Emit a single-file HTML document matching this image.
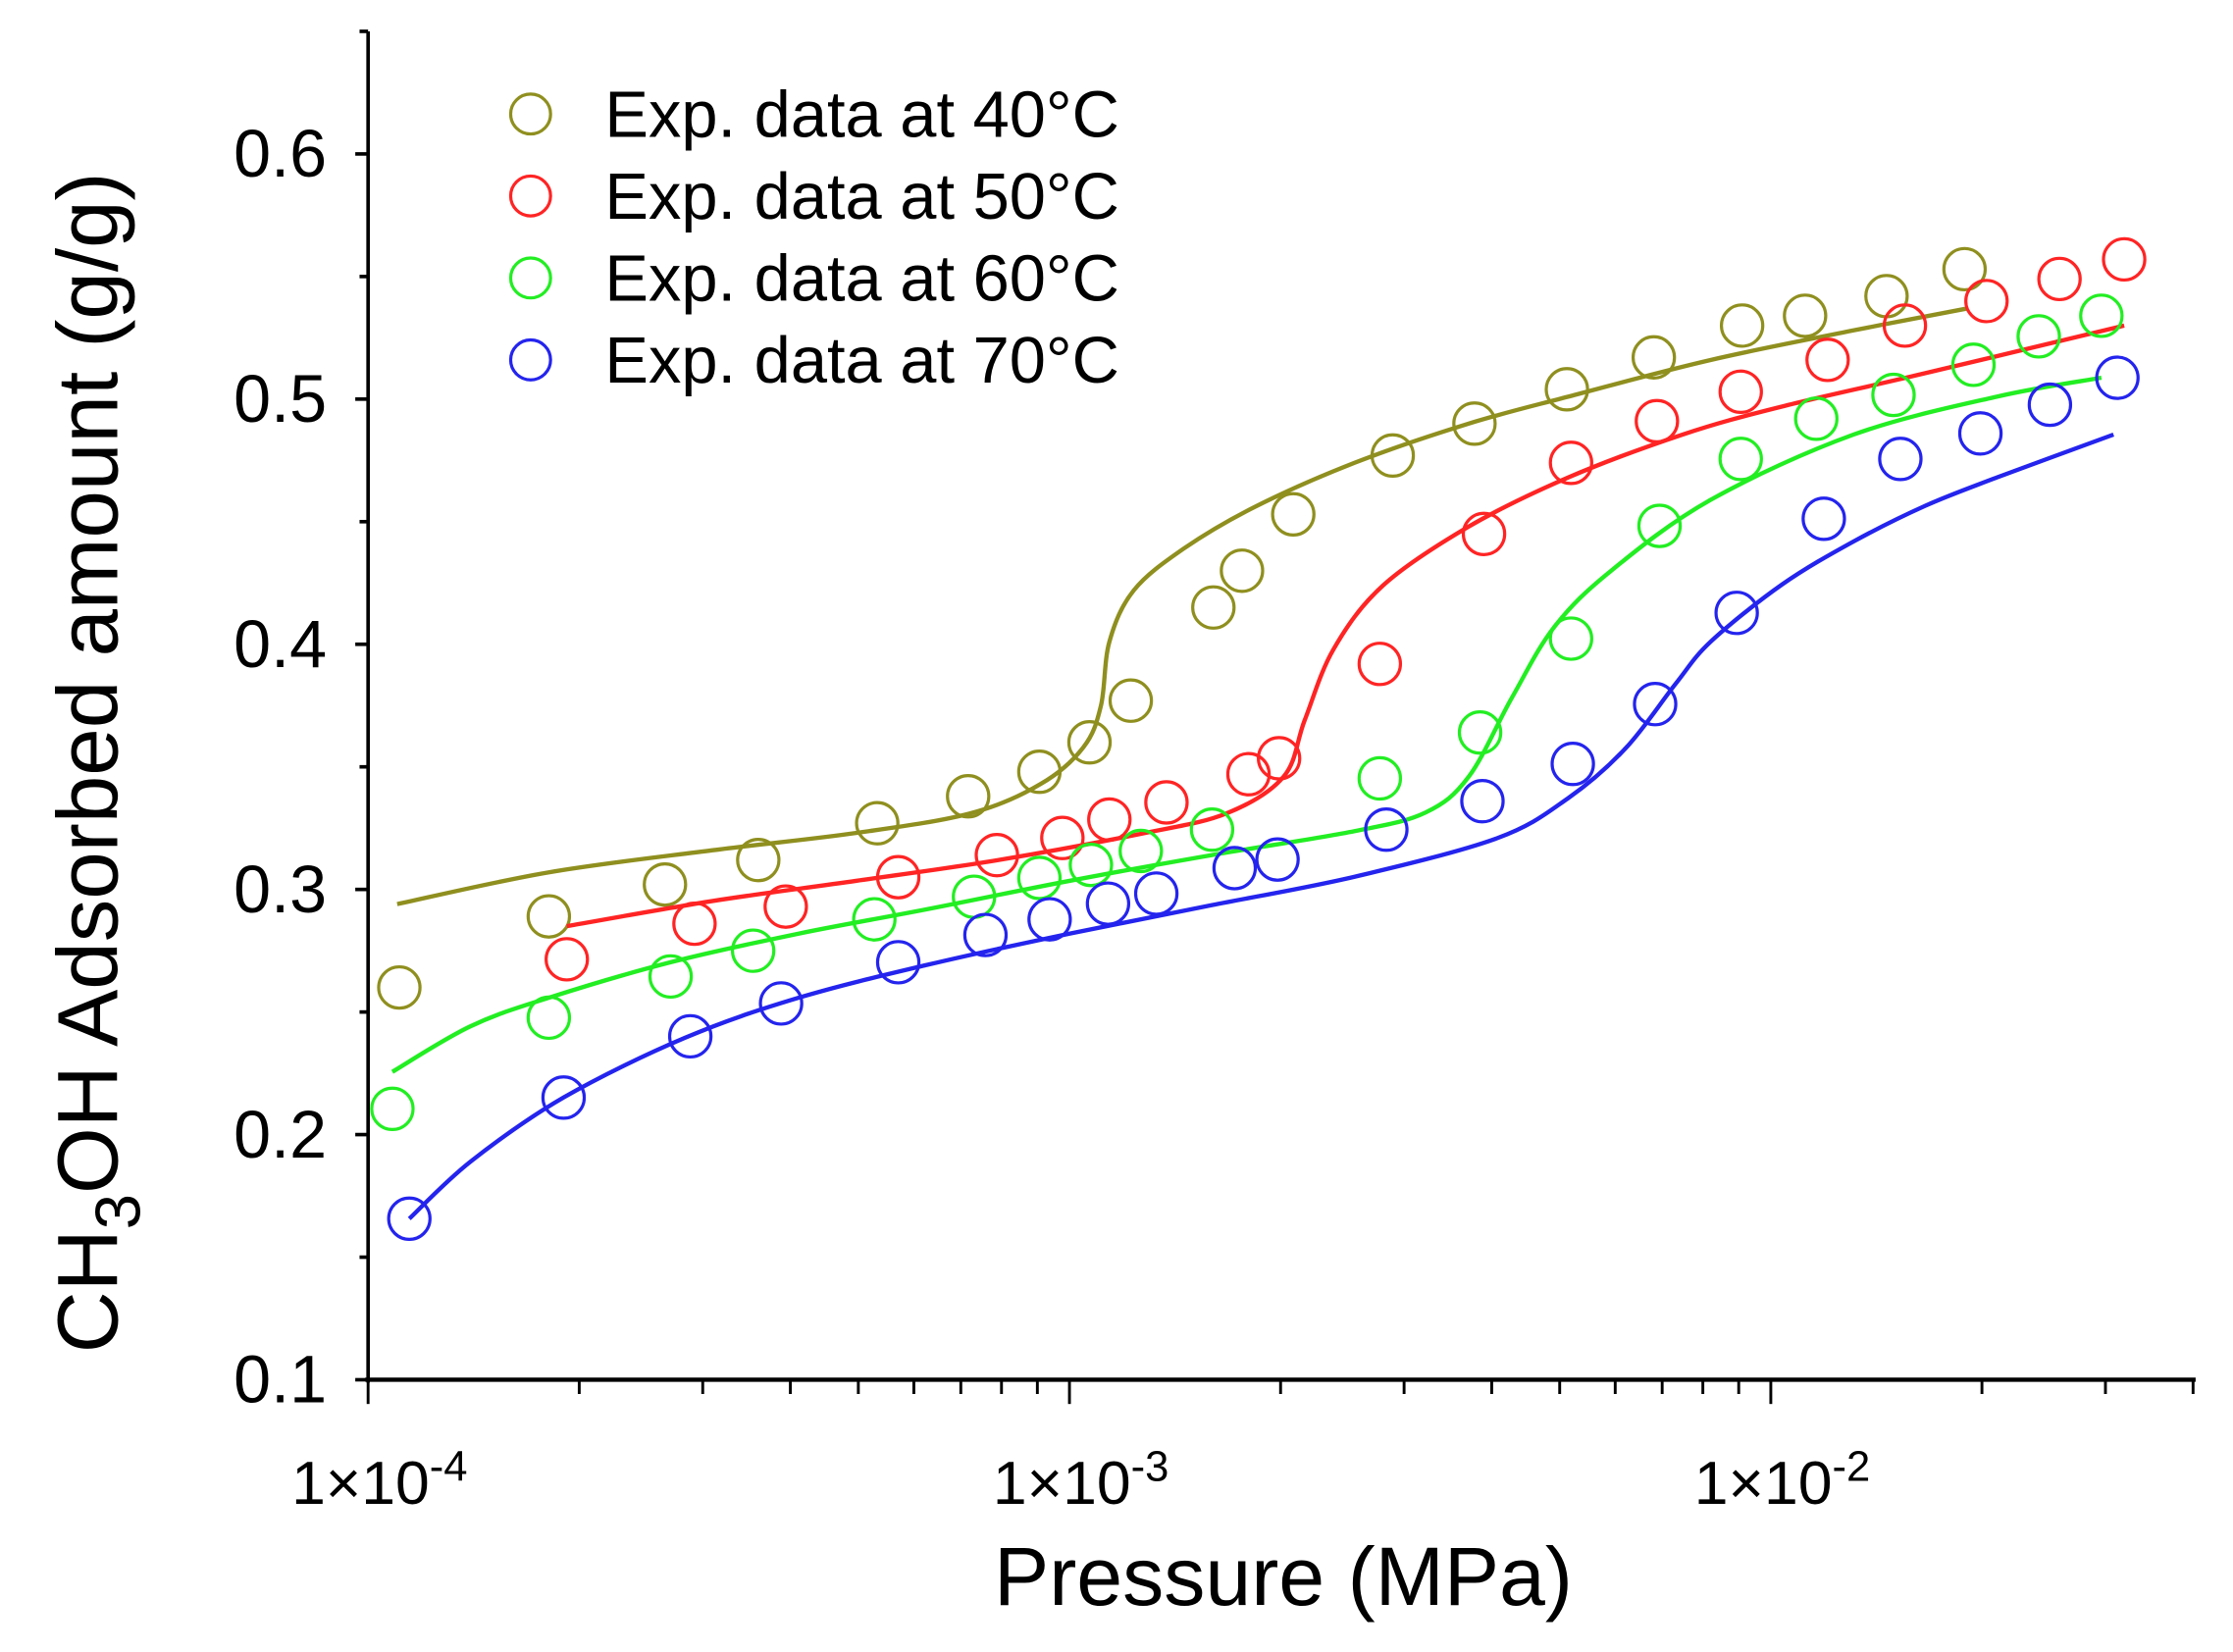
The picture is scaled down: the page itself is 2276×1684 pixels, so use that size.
<!DOCTYPE html>
<html><head><meta charset="utf-8"><style>
html,body{margin:0;padding:0;background:#fff}
svg{display:block}
text{font-family:"Liberation Sans",sans-serif;fill:#000}
</style></head><body>
<svg id="chart" width="2276" height="1684" viewBox="0 0 1566 1159" xmlns="http://www.w3.org/2000/svg">
<g id="axes"></g>
<g id="series"></g>
<text transform="translate(82,535) rotate(-90)" text-anchor="middle" font-size="60">CH<tspan font-size="45" dy="16">3</tspan><tspan dy="-16">OH Adsorbed amount (g/g)</tspan></text>
<text x="900" y="1126" text-anchor="middle" font-size="58">Pressure (MPa)</text>
<g id="legend"></g>
</svg>
<script>
const seriesNames = ["Exp. data at 40°C","Exp. data at 50°C","Exp. data at 60°C","Exp. data at 70°C"];
const seriesColors = ["#8f8f1f","#ff2424","#22ee22","#2424ee"];
const yTicks = [0.1,0.2,0.3,0.4,0.5,0.6];
const yTickLabels = ["0.1","0.2","0.3","0.4","0.5","0.6"];
const xDecades = [-4,-3,-2];
const xTickLabelExps = ["-4","-3","-2"];

const p40 = [1.108e-4,1.81e-4,2.65e-4,3.60e-4,5.32e-4,7.17e-4,9.06e-4,1.068e-3,1.223e-3,1.604e-3,1.762e-3,2.085e-3,2.89e-3,3.78e-3,5.12e-3,6.81e-3,9.10e-3,1.119e-2,1.462e-2,1.889e-2];
const q40 = [0.260,0.289,0.302,0.312,0.327,0.338,0.348,0.360,0.377,0.415,0.430,0.453,0.477,0.490,0.504,0.517,0.530,0.534,0.542,0.553];
const p50 = [1.92e-4,2.92e-4,3.94e-4,5.70e-4,7.88e-4,9.77e-4,1.14e-3,1.375e-3,1.80e-3,1.99e-3,2.77e-3,3.90e-3,5.19e-3,6.88e-3,9.06e-3,1.205e-2,1.553e-2,2.03e-2,2.58e-2,3.19e-2];
const q50 = [0.2715,0.286,0.293,0.305,0.314,0.321,0.3285,0.3355,0.347,0.3535,0.392,0.445,0.474,0.491,0.503,0.516,0.530,0.540,0.549,0.557];
const p60 = [1.083e-4,1.81e-4,2.70e-4,3.54e-4,5.27e-4,7.31e-4,9.06e-4,1.073e-3,1.264e-3,1.597e-3,2.77e-3,3.85e-3,5.19e-3,6.94e-3,9.06e-3,1.161e-2,1.496e-2,1.945e-2,2.41e-2,2.96e-2];
const q60 = [0.2105,0.2477,0.2645,0.275,0.2878,0.297,0.3047,0.310,0.3157,0.3244,0.3453,0.364,0.4023,0.4483,0.4756,0.492,0.5017,0.514,0.5256,0.534];
const p70 = [1.145e-4,1.90e-4,2.88e-4,3.88e-4,5.70e-4,7.59e-4,9.37e-4,1.135e-3,1.33e-3,1.72e-3,1.98e-3,2.83e-3,3.88e-3,5.22e-3,6.84e-3,8.94e-3,1.19e-2,1.53e-2,1.99e-2,2.50e-2,3.12e-2];
const q70 = [0.1657,0.2151,0.2401,0.2535,0.2703,0.2814,0.2878,0.2942,0.2983,0.3087,0.3122,0.3244,0.336,0.3512,0.3756,0.4128,0.4512,0.4756,0.486,0.4977,0.5087];

const fitP40 = [1.10e-4,1.81e-4,3.10e-4,4.96e-4,7.21e-4,9.1e-4,1.047e-3,1.109e-3,1.14e-3,1.235e-3,1.455e-3,1.837e-3,2.55e-3,3.71e-3,5.14e-3,8.22e-3,1.312e-2,1.906e-2];
const fitQ40 = [0.294,0.307,0.316,0.323,0.331,0.343,0.358,0.375,0.401,0.422,0.439,0.456,0.474,0.490,0.501,0.516,0.528,0.537];
const fitP50 = [1.92e-4,3.10e-4,4.96e-4,7.91e-4,1.264e-3,1.673e-3,2.02e-3,2.165e-3,2.38e-3,2.80e-3,3.71e-3,5.14e-3,7.48e-3,1.038e-2,1.658e-2,3.19e-2];
const fitQ50 = [0.285,0.2953,0.3035,0.312,0.3227,0.331,0.346,0.369,0.398,0.424,0.448,0.468,0.4855,0.497,0.5105,0.530];
const fitP60 = [1.083e-4,1.40e-4,1.81e-4,2.70e-4,4.11e-4,6.26e-4,1.0e-3,1.597e-3,2.55e-3,3.22e-3,3.71e-3,4.27e-3,4.91e-3,5.92e-3,8.22e-3,1.312e-2,2.10e-2,2.96e-2];
const fitQ60 = [0.2256,0.2442,0.2558,0.2703,0.282,0.2919,0.3035,0.314,0.3238,0.3314,0.346,0.378,0.407,0.430,0.459,0.4855,0.501,0.5087];
const fitP70 = [1.145e-4,1.40e-4,1.90e-4,2.83e-4,4.11e-4,6.26e-4,1.0e-3,1.597e-3,2.55e-3,4.07e-3,5.14e-3,6.21e-3,7.31e-3,8.22e-3,1.038e-2,1.312e-2,1.658e-2,2.10e-2,3.08e-2];
const fitQ70 = [0.1657,0.189,0.2151,0.2395,0.2558,0.2692,0.282,0.2936,0.3052,0.3209,0.3372,0.3576,0.3837,0.4012,0.4244,0.4419,0.4564,0.468,0.4855];

const NS = "http://www.w3.org/2000/svg";
const X0 = 258, DEC = 492, Y0 = 968, YS = 1720;
const XMAX = 1540, YTOP = 22;
function xs(p){ return X0 + (Math.log10(p) + 4) * DEC; }
function ys(q){ return Y0 - (q - 0.1) * YS; }
function mk(tag, attrs, parent){ const e = document.createElementNS(NS, tag); for (const k in attrs) e.setAttribute(k, attrs[k]); parent.appendChild(e); return e; }

const axes = document.getElementById("axes");
let el;
el = mk("line", {x1:X0, y1:YTOP, x2:X0, y2:Y0+2, stroke:"#000", "stroke-width":2.5}, axes);


el = mk("line", {x1:X0-2, y1:Y0, x2:XMAX, y2:Y0, stroke:"#000", "stroke-width":3}, axes);


mk("line", {x1:X0, y1:YTOP, x2:X0-6, y2:YTOP, stroke:"#000", "stroke-width":2.5}, axes);

yTicks.forEach((v, i) => {
  const y = ys(v);
  mk("line", {x1:X0-9, y1:y, x2:X0, y2:y, stroke:"#000", "stroke-width":2.5}, axes);
  const t = mk("text", {x:229, y:y+16, "text-anchor":"end", "font-size":47}, axes);
  t.textContent = yTickLabels[i];
  
  
  if (v < 0.6) { const ym = ys(v + 0.05); mk("line", {x1:X0-6, y1:ym, x2:X0, y2:ym, stroke:"#000", "stroke-width":2.5}, axes); }
});

xDecades.forEach((d, i) => {
  const x = xs(Math.pow(10, d));
  mk("line", {x1:x, y1:Y0, x2:x, y2:Y0+17, stroke:"#000", "stroke-width":2}, axes);
  const t = mk("text", {x:x+8, y:1055, "text-anchor":"middle", "font-size":43}, axes);
  
  
  t.innerHTML = '1×10<tspan dy="-16" font-size="30">' + xTickLabelExps[i] + '</tspan>';
  for (let m = 2; m <= 9; m++) {
    const xm = xs(m * Math.pow(10, d));
    if (xm > XMAX + 1) break;
    mk("line", {x1:xm, y1:Y0, x2:xm, y2:Y0+10, stroke:"#000", "stroke-width":2}, axes);
  }
});

function smoothPath(pts){
  let d = "M" + pts[0][0].toFixed(1) + "," + pts[0][1].toFixed(1);
  for (let i = 0; i < pts.length - 1; i++) {
    const p0 = pts[Math.max(0, i-1)], p1 = pts[i], p2 = pts[i+1], p3 = pts[Math.min(pts.length-1, i+2)];
    const c1x = p1[0] + (p2[0]-p0[0])/6, c1y = p1[1] + (p2[1]-p0[1])/6;
    const c2x = p2[0] - (p3[0]-p1[0])/6, c2y = p2[1] - (p3[1]-p1[1])/6;
    d += " C" + c1x.toFixed(1) + "," + c1y.toFixed(1) + " " + c2x.toFixed(1) + "," + c2y.toFixed(1) + " " + p2[0].toFixed(1) + "," + p2[1].toFixed(1);
  }
  return d;
}

const seriesG = document.getElementById("series");
const allP = [p40,p50,p60,p70], allQ = [q40,q50,q60,q70];
const allFP = [fitP40,fitP50,fitP60,fitP70], allFQ = [fitQ40,fitQ50,fitQ60,fitQ70];
const temps = ["40c","50c","60c","70c"];
for (let s = 0; s < 4; s++) {
  const pts = allFP[s].map((p, i) => [xs(p), ys(allFQ[s][i])]);
  const path = mk("path", {d:smoothPath(pts), fill:"none", stroke:seriesColors[s], "stroke-width":3}, seriesG);
  
  
  allP[s].forEach((p, i) => {
    const c = mk("circle", {cx:xs(p), cy:ys(allQ[s][i]), r:14.5, fill:"none", stroke:seriesColors[s], "stroke-width":2.2}, seriesG);
    
    
  });
}

const legend = document.getElementById("legend");
seriesNames.forEach((n, i) => {
  const y = 80 + i * 57.5;
  const c = mk("circle", {cx:372, cy:y, r:14, fill:"none", stroke:seriesColors[i], "stroke-width":2.2}, legend);
  
  
  const t = mk("text", {x:424, y:y+16, "font-size":46}, legend);
  t.textContent = n;
  
  
});
</script>
</body></html>
